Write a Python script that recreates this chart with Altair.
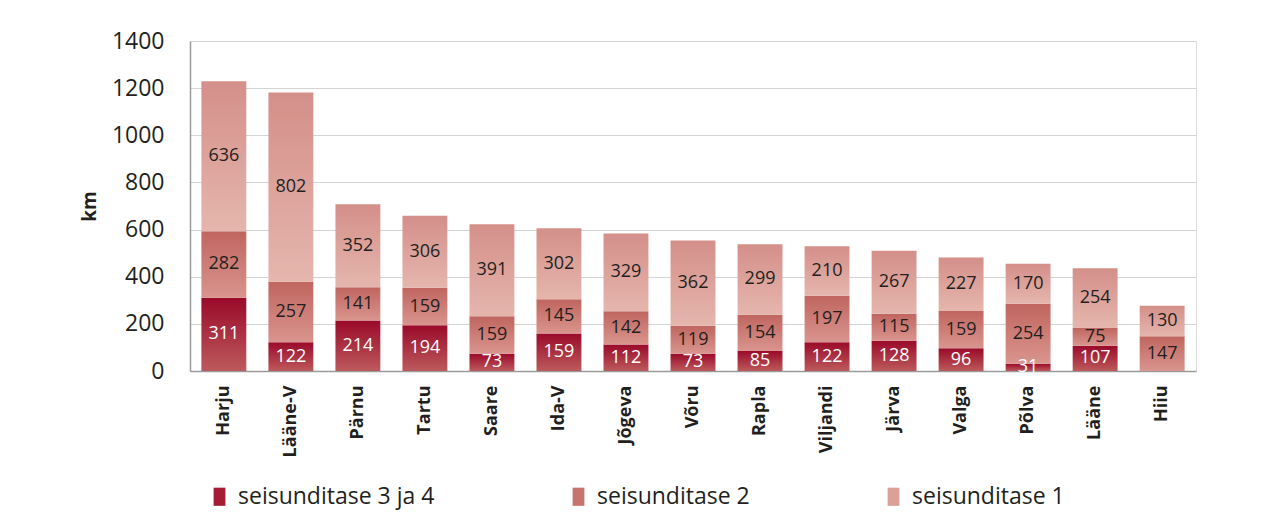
import altair as alt
import pandas as pd

regions = ["Harju", "Lääne-V", "Pärnu", "Tartu", "Saare", "Ida-V", "Jõgeva", "Võru",
           "Rapla", "Viljandi", "Järva", "Valga", "Põlva", "Lääne", "Hiiu"]
series_names = ["seisunditase 3 ja 4", "seisunditase 2", "seisunditase 1"]
level34 = [311, 122, 214, 194, 73, 159, 112, 73, 85, 122, 128, 96, 31, 107, 0]
level2 = [282, 257, 141, 159, 159, 145, 142, 119, 154, 197, 115, 159, 254, 75, 147]
level1 = [636, 802, 352, 306, 391, 302, 329, 362, 299, 210, 267, 227, 170, 254, 130]
y_ticks = [0, 200, 400, 600, 800, 1000, 1200, 1400]

rows = []
for i, r in enumerate(regions):
    for k, (s, vals) in enumerate(zip(series_names, [level34, level2, level1])):
        rows.append({"region": r, "series": s, "order": k, "value": vals[i]})
df = pd.DataFrame(rows)

FONT = "Open Sans"
TXT = "#231f20"

grads = {
    series_names[0]: ("#9a0a2a", "#bc5a5c"),
    series_names[1]: ("#c0655f", "#d9958e"),
    series_names[2]: ("#d48f89", "#e5b6ad"),
}
legend_cols = ["#a51c35", "#c8746e", "#dba199"]

x_enc = alt.X("region:N", sort=regions, scale=alt.Scale(paddingInner=0.33, paddingOuter=0.17),
              axis=alt.Axis(title=None, labelAngle=-90, labelFont=FONT, labelFontSize=18,
                            labelFontWeight="bold", labelColor=TXT, ticks=False,
                            labelPadding=14, domainColor="#9a9a9a", domainWidth=1.5,
                            labelAlign="right", labelBaseline="middle"))

base = alt.Chart(df).transform_stack(
    stack="value", groupby=["region"], as_=["y0", "y1"],
    sort=[alt.SortField("order", order="ascending")]
).transform_calculate(mid="(datum.y0 + datum.y1) / 2")

y_scale = alt.Scale(domain=[0, 1400], nice=False)
y_axis = alt.Axis(title="km", values=y_ticks, format="d", labelFont=FONT, labelFontSize=23,
                  labelColor=TXT, ticks=False, labelPadding=26, grid=True, gridColor="#d4d4d4",
                  gridWidth=1.2, domainColor="#9a9a9a", domainWidth=1.5, titleFont=FONT,
                  titleFontSize=19, titleFontWeight="bold", titleColor=TXT, titlePadding=12)

layers = []
for idx, s in enumerate(series_names):
    c0, c1 = grads[s]
    g = alt.Gradient(gradient="linear", x1=0, x2=0, y1=0, y2=1,
                     stops=[alt.GradientStop(color=c0, offset=0), alt.GradientStop(color=c1, offset=1)])
    bar = base.transform_filter(alt.datum.series == s).mark_bar(color=g).encode(
        x=x_enc,
        y=alt.Y("y1:Q", scale=y_scale, axis=y_axis),
        y2="y0:Q",
    )
    layers.append(bar)

# invisible layer providing legend
legend_layer = base.mark_square(opacity=0, size=1).encode(
    x=x_enc,
    y=alt.Y("mid:Q", scale=y_scale, axis=y_axis),
    color=alt.Color("series:N", sort=series_names,
                    scale=alt.Scale(domain=series_names, range=legend_cols),
                    legend=alt.Legend(title=None, orient="none", legendX=18, legendY=444,
                                      direction="horizontal", symbolOpacity=1,
                                      symbolType="M-0.65,-1H0.65V1H-0.65Z", symbolSize=330,
                                      symbolStrokeWidth=0,
                                      labelFont=FONT, labelFontSize=23, labelColor=TXT,
                                      labelOffset=7, columnPadding=132, labelLimit=400)),
)
layers.append(legend_layer)

text_white = base.transform_filter(
    (alt.datum.series == series_names[0]) & (alt.datum.value > 0)
).mark_text(font=FONT, fontSize=18, color="white", baseline="middle").encode(
    x=x_enc, y=alt.Y("mid:Q", scale=y_scale, axis=y_axis), text="value:Q")
text_dark = base.transform_filter(
    (alt.datum.series != series_names[0]) & (alt.datum.value > 0)
).mark_text(font=FONT, fontSize=18, color=TXT, baseline="middle").encode(
    x=x_enc, y=alt.Y("mid:Q", scale=y_scale, axis=y_axis), text="value:Q")
layers += [text_white, text_dark]

chart = alt.layer(*layers).properties(
    width=1006, height=330,
    padding={"left": 72, "top": 22, "right": 5, "bottom": 5},
).configure_view(stroke="transparent").configure(background="white")

chart.save("out.html", embed_options={"renderer": "svg", "actions": False})
